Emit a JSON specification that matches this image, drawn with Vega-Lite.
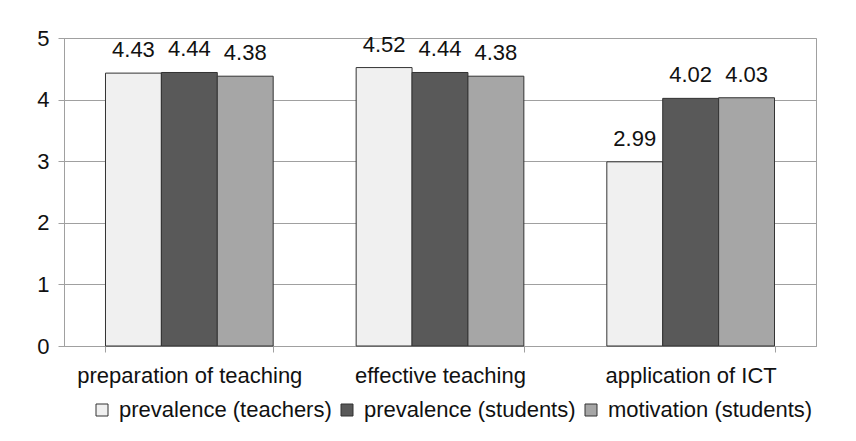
{
  "$schema": "https://vega.github.io/schema/vega-lite/v6.json",
  "width": 752,
  "height": 308,
  "autosize": "none",
  "padding": {"left": 64, "top": 38, "right": 40, "bottom": 95},
  "background": "white",
  "config": {
    "font": "Liberation Sans",
    "view": {"stroke": "#a0a0a0", "strokeWidth": 1},
    "axis": {"labelColor": "#111", "labelFont": "Liberation Sans"},
    "legend": {"padding": 0}
  },
  "data": {
    "values": [
      {"category": "preparation of teaching", "series": "prevalence (teachers)", "value": 4.43},
      {"category": "preparation of teaching", "series": "prevalence (students)", "value": 4.44},
      {"category": "preparation of teaching", "series": "motivation (students)", "value": 4.38},
      {"category": "effective teaching", "series": "prevalence (teachers)", "value": 4.52},
      {"category": "effective teaching", "series": "prevalence (students)", "value": 4.44},
      {"category": "effective teaching", "series": "motivation (students)", "value": 4.38},
      {"category": "application of ICT", "series": "prevalence (teachers)", "value": 2.99},
      {"category": "application of ICT", "series": "prevalence (students)", "value": 4.02},
      {"category": "application of ICT", "series": "motivation (students)", "value": 4.03}
    ]
  },
  "encoding": {
    "x": {
      "field": "category", "type": "nominal", "sort": null,
      "scale": {"paddingInner": 0.331, "paddingOuter": 0.1655},
      "axis": {
        "title": null, "labelAngle": 0, "labelFontSize": 22, "labelPadding": 13,
        "labelLimit": 400,
        "tickBand": "extent", "tickSize": 6, "tickColor": "#a0a0a0",
        "domainColor": "#a0a0a0"
      }
    },
    "xOffset": {"field": "series", "type": "nominal", "sort": ["prevalence (teachers)", "prevalence (students)", "motivation (students)"]},
    "y": {
      "field": "value", "type": "quantitative",
      "scale": {"domain": [0, 5]},
      "axis": {
        "title": null, "values": [0, 1, 2, 3, 4, 5], "labelOverlap": false,
        "labelFontSize": 22, "labelPadding": 9, "tickSize": 6,
        "tickColor": "#a0a0a0", "domainColor": "#a0a0a0",
        "gridColor": "#a0a0a0", "grid": true
      }
    }
  },
  "layer": [
    {
      "mark": {"type": "bar", "stroke": "#333333", "strokeWidth": 1},
      "encoding": {
        "color": {
          "field": "series", "type": "nominal",
          "sort": ["prevalence (teachers)", "prevalence (students)", "motivation (students)"],
          "scale": {"domain": ["prevalence (teachers)", "prevalence (students)", "motivation (students)"], "range": ["#f0f0f0", "#595959", "#a6a6a6"]},
          "legend": {
            "title": null, "orient": "none", "direction": "horizontal",
            "legendX": 27, "legendY": 361,
            "symbolType": "square", "symbolSize": 144, "symbolStrokeColor": "#333333",
            "symbolStrokeWidth": 1, "symbolOpacity": 1,
            "labelFontSize": 22, "labelColor": "#111", "labelOffset": 6,
            "labelLimit": 400, "columnPadding": 4
          }
        }
      }
    },
    {
      "mark": {"type": "text", "baseline": "alphabetic", "dy": -16, "fontSize": 22, "color": "#111"},
      "encoding": {
        "text": {"field": "value", "type": "quantitative", "format": ".2f"}
      }
    }
  ]
}
